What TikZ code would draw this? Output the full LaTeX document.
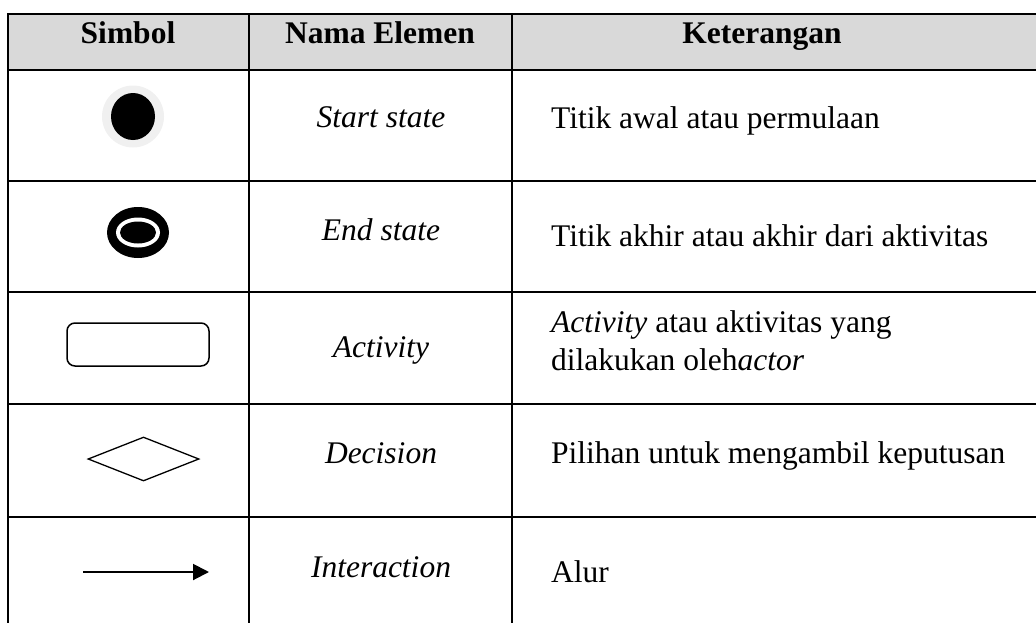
\documentclass[tikz,border=0pt]{standalone}
\usepackage{fontspec}
\setmainfont{Liberation Serif}
\usetikzlibrary{shapes.geometric,arrows.meta}
\definecolor{headgray}{HTML}{D9D9D9}
\definecolor{halo}{HTML}{F0F0F0}
\begin{document}
\begin{tikzpicture}[x=1pt,y=-1pt,
  gridline/.style={line width=2.2pt, line cap=rect},
  txt/.style={font=\fontsize{31.5}{38}\selectfont, inner sep=0pt, anchor=base},
  desc/.style={txt, anchor=base west},
  hdr/.style={txt, font=\fontsize{31.5}{38}\selectfont\bfseries},
  blk/.style={ellipse, fill=black, inner sep=0pt},
  shapeline/.style={draw=black, line width=1.5pt, inner sep=0pt}]
\useasboundingbox (0,0) rectangle (1036,622);
% header background
\fill[headgray] (8,14) rectangle (1036,70);
% grid
\foreach \yy in {14,70,181,292.3,404,516.7} \draw[gridline] (8,\yy) -- (1036,\yy);
\foreach \xx in {8,249,512.3} \draw[gridline] (\xx,14) -- (\xx,622);
% header
\node[hdr] (h1) at (128,43) {Simbol};
\node[hdr] (h2) at (380,43) {Nama Elemen};
\node[hdr] (h3) at (762,43) {Keterangan};
% row 1: start state
\node[circle, fill=halo, inner sep=0pt, minimum size=62pt] (s0) at (133,116.5) {};
\node[blk, minimum width=44pt, minimum height=47pt] (s1) at (133,116.5) {};
\node[txt] (n1) at (381,127) {\textit{Start state}};
\node[desc] (d1) at (551,128) {Titik awal atau permulaan};
% row 2: end state
\node[blk, minimum width=62pt, minimum height=51pt] (e0) at (138,232.5) {};
\node[ellipse, fill=white, inner sep=0pt, minimum width=44pt, minimum height=30pt] (e1) at (138,232.5) {};
\node[blk, minimum width=36pt, minimum height=22pt] (e2) at (138,232.5) {};
\node[txt] (n2) at (381,240) {\textit{End state}};
\node[desc] (d2) at (551,246) {Titik akhir atau akhir dari aktivitas};
% row 3: activity
\node[shapeline, rectangle, rounded corners=8pt, minimum width=142pt, minimum height=43pt] (act) at (138,344.5) {};
\node[txt] (n3) at (381,357) {\textit{Activity}};
\node[desc] (d3a) at (551,332) {\textit{Activity} atau aktivitas yang};
\node[desc] (d3b) at (551,370) {dilakukan oleh\textit{actor}};
% row 4: decision
\node[shapeline, diamond, line width=1.3pt, minimum width=111pt, minimum height=44pt] (dec) at (143.5,459) {};
\node[txt] (n4) at (381,463) {\textit{Decision}};
\node[desc] (d4) at (551,463) {Pilihan untuk mengambil keputusan};
% row 5: interaction
\coordinate (a1) at (83,572);
\coordinate (a2) at (209,572);
\draw[line width=2pt, -{Triangle[length=16pt,width=16pt]}] (a1) -- (a2);
\node[txt] (n5) at (381,577) {\textit{Interaction}};
\node[desc] (d5) at (551,582) {Alur};
\end{tikzpicture}
\end{document}
